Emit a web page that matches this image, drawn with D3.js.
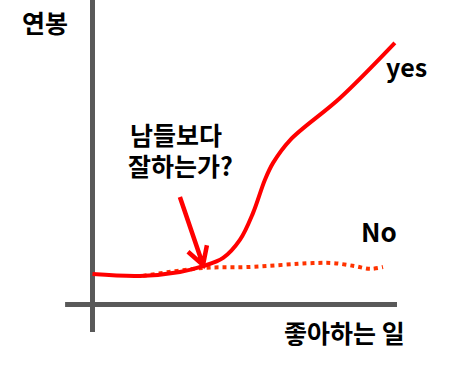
<!DOCTYPE html>
<html>
<head>
<meta charset="utf-8">
<script src="https://cdn.jsdelivr.net/npm/d3@7"></script>
<style>
	html, body { margin: 0; padding: 0; background: #fff; }
	svg { display: block; }
	text { font-family: "Noto Sans CJK KR", "Noto Sans", sans-serif; font-weight: bold; fill: #000; }
</style>
</head>
<body>
<svg id="chart" width="474" height="365"></svg>
<script>
// "yes" curve: 좋아하는 일 (x) vs 연봉 (y)
const yesX = [0, 1.56, 2.87, 3.63, 4.29, 4.84, 5.27, 5.66, 5.93, 6.49, 8.13, 9.93];
const yesY = [1.0, 0.94, 1.07, 1.26, 1.53, 2.12, 3.0, 4.09, 4.65, 5.40, 6.78, 8.59];

// "No" curve (dotted)
const noX = [1.66, 3.63, 5.07, 7.24, 7.90, 8.62, 9.11, 9.54];
const noY = [0.94, 1.20, 1.23, 1.36, 1.36, 1.26, 1.17, 1.23];

// arrow: from label down to where the curves split
const arrowFrom = [2.87, 3.53];
const arrowTo = [3.63, 1.30];

const questionLines = ["남들보다", "잘하는가?"];

const svg = d3.select("#chart");

const x = d3.scaleLinear().domain([0, 10]).range([92.5, 397]);
const y = d3.scaleLinear().domain([0, 10]).range([304.5, 0]);

const axisColor = "#595959";

// axes (plain lines, no ticks)
svg.append("line")
	.attr("x1", x(0)).attr("x2", x(0))
	.attr("y1", y(10)).attr("y2", y(-0.9))
	.attr("stroke", axisColor).attr("stroke-width", 5);
svg.append("line")
	.attr("x1", x(-0.9)).attr("x2", x(10))
	.attr("y1", y(0)).attr("y2", y(0))
	.attr("stroke", axisColor).attr("stroke-width", 5);

const line = d3.line()
	.x(d => x(d[0]))
	.y(d => y(d[1]))
	.curve(d3.curveCatmullRom.alpha(0.5));

// dotted "No" line
svg.append("path")
	.datum(d3.zip(noX, noY))
	.attr("d", line)
	.attr("fill", "none")
	.attr("stroke", "#ff3300")
	.attr("stroke-width", 4)
	.attr("stroke-dasharray", "4,4");

// solid "yes" line
svg.append("path")
	.datum(d3.zip(yesX, yesY))
	.attr("d", line)
	.attr("fill", "none")
	.attr("stroke", "#ff0000")
	.attr("stroke-width", 4);

// arrow
const ax0 = x(arrowFrom[0]), ay0 = y(arrowFrom[1]);
const ax1 = x(arrowTo[0]), ay1 = y(arrowTo[1]);
const ang = Math.atan2(ay1 - ay0, ax1 - ax0);
const headLen = 20, headAng = Math.PI / 6;
const wing = s => [ax1 - headLen * Math.cos(ang + s * headAng), ay1 - headLen * Math.sin(ang + s * headAng)];
svg.append("path")
	.attr("d", d3.line()([[ax0, ay0], [ax1, ay1]]) + d3.line()([wing(1), [ax1, ay1], wing(-1)]))
	.attr("fill", "none")
	.attr("stroke", "#ff0000")
	.attr("stroke-width", 4.5)
	.attr("stroke-linejoin", "miter");

// labels
svg.append("text").attr("x", 22).attr("y", 33).attr("font-size", 25).text("연봉");
svg.append("text").attr("x", 284).attr("y", 343).attr("font-size", 25).text("좋아하는 일");
svg.append("text").attr("x", 386).attr("y", 77).attr("font-size", 25).text("yes");
svg.append("text").attr("x", 361).attr("y", 242).attr("font-size", 26).text("No");

// two-line question as one text block
const q = svg.append("text").attr("font-size", 25);
q.selectAll("tspan")
	.data(questionLines)
	.join("tspan")
	.attr("x", (d, i) => i === 0 ? 130 : 128)
	.attr("y", (d, i) => 145 + i * 31)
	.text(d => d);
</script>
</body>
</html>
